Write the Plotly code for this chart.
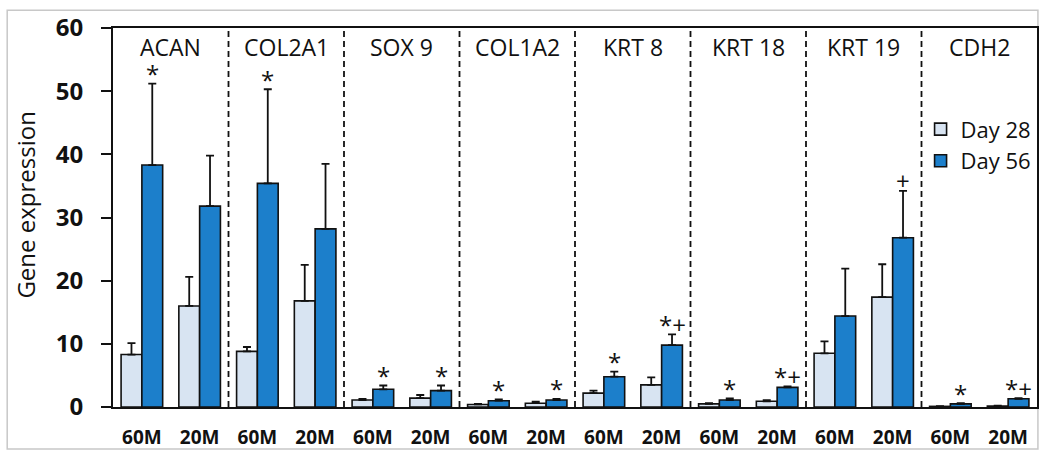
import plotly.graph_objects as go

genes = ["ACAN", "COL2A1", "SOX 9", "COL1A2", "KRT 8", "KRT 18", "KRT 19", "CDH2"]
groups = ["60M", "20M"]

# values per gene, order: 60M, 20M
day28 = [8.3, 16.0, 8.8, 16.8, 1.1, 1.4, 0.4, 0.6, 2.2, 3.5, 0.5, 0.9, 8.5, 17.4, 0.1, 0.15]
day28_err = [1.8, 4.6, 0.7, 5.7, 0.2, 0.5, 0.1, 0.25, 0.4, 1.2, 0.1, 0.2, 1.9, 5.2, 0.05, 0.05]
day56 = [38.3, 31.8, 35.4, 28.2, 2.8, 2.6, 1.0, 1.1, 4.8, 9.8, 1.1, 3.1, 14.4, 26.8, 0.5, 1.3]
day56_err = [12.9, 8.0, 14.9, 10.3, 0.6, 0.8, 0.2, 0.2, 0.8, 1.7, 0.25, 0.15, 7.5, 7.4, 0.1, 0.1]
marks = ["*", "", "*", "", "*", "*", "*", "*", "*", "*+", "*", "*+", "", "+", "*", "*+"]

yticks = [0, 10, 20, 30, 40, 50, 60]

labels = groups * len(genes)
xpos = list(range(len(labels)))

FONT = "Open Sans"
BLUE_L = "#d8e4f2"
BLUE_D = "#1c7fcb"

fig = go.Figure()
fig.add_trace(go.Bar(
    x=xpos, y=day28, name="Day 28",
    marker=dict(color=BLUE_L, line=dict(color="#111111", width=1.6)),
    error_y=dict(type="data", array=day28_err, arrayminus=[0] * len(day28),
                 symmetric=False, color="#111111", thickness=1.8, width=4),
))
fig.add_trace(go.Bar(
    x=xpos, y=day56, name="Day 56",
    marker=dict(color=BLUE_D, line=dict(color="#111111", width=1.6)),
    error_y=dict(type="data", array=day56_err, arrayminus=[0] * len(day56),
                 symmetric=False, color="#111111", thickness=1.8, width=4),
))

bargap = 0.28
offset = (1 - bargap) / 4  # centre of the second bar in a group

annotations = []
for i, m in enumerate(marks):
    if m:
        annotations.append(dict(
            x=xpos[i] + offset, y=day56[i] + day56_err[i], xref="x", yref="y",
            text=m, showarrow=False, yanchor="middle", xanchor="center", yshift=10,
            font=dict(family=FONT, size=24, color="#111111"),
        ))

for g, gene in enumerate(genes):
    annotations.append(dict(
        x=2 * g + 0.5, y=0.95, xref="x", yref="paper", text=gene,
        showarrow=False, xanchor="center", yanchor="middle",
        font=dict(family=FONT, size=23, color="#111111"),
    ))

annotations.append(dict(
    x=-0.095, y=0.532, xref="paper", yref="paper", text="Gene expression",
    showarrow=False, textangle=-90, xanchor="center", yanchor="middle",
    font=dict(family=FONT, size=24, color="#111111"),
))

shapes = []
for g in range(1, len(genes)):
    shapes.append(dict(
        type="line", xref="x", yref="paper", x0=2 * g - 0.5, x1=2 * g - 0.5,
        y0=0, y1=1, line=dict(color="#111111", width=1.8, dash="6px,4px"),
    ))
# outer frame of the picture
shapes.append(dict(
    type="rect", xref="paper", yref="paper", x0=-0.1145, x1=1.001,
    y0=-0.1105, y1=1.047, line=dict(color="#c8c8c8", width=1.5), layer="below",
))

fig.update_layout(
    width=1042, height=453,
    margin=dict(l=113, r=3, t=28, b=45),
    paper_bgcolor="white", plot_bgcolor="white",
    barmode="group", bargap=bargap, bargroupgap=0,
    font=dict(family=FONT, color="#111111"),
    showlegend=True,
    legend=dict(x=0.874, y=0.788, xanchor="left", yanchor="top",
                bgcolor="rgba(0,0,0,0)", font=dict(family=FONT, size=22),
                tracegroupgap=4),
    annotations=annotations,
    shapes=shapes,
)
fig.update_xaxes(
    range=[-0.5, len(labels) - 0.5], tickvals=xpos, ticktext=labels,
    showline=True, linecolor="#111111", linewidth=2, mirror=True,
    ticks="", showgrid=False, zeroline=False, ticklabelstandoff=12,
    tickfont=dict(family=FONT, size=19, color="#111111", weight="bold"),
)
fig.update_yaxes(
    range=[0, 60], tickvals=yticks,
    showline=True, linecolor="#111111", linewidth=2, mirror=True,
    ticks="outside", ticklen=10, tickwidth=2, tickcolor="#111111",
    showgrid=False, zeroline=False, ticklabelstandoff=13,
    tickfont=dict(family=FONT, size=24, color="#111111", weight="bold"),
)

fig.write_html(
    "out.html",
    config={"displayModeBar": False},
    post_script="document.body.style.margin='0';document.body.style.overflow='hidden';",
)
